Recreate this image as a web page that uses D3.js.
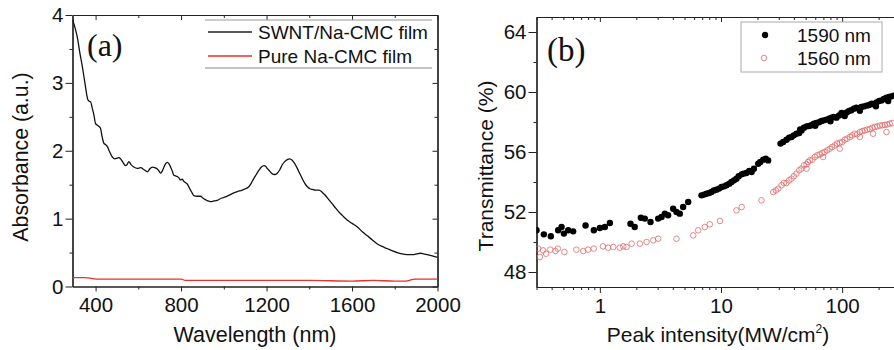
<!DOCTYPE html>
<html><head><meta charset="utf-8">
<script src="https://cdn.jsdelivr.net/npm/d3@7"></script>
<style>body{margin:0;background:#fff}svg{display:block}</style>
</head><body><svg id="c" width="894" height="350"></svg>
<script>
// ---------- Panel (a) data ----------
const absWavelength = [292,305,314,326,338,350,364,370,377,385,392,400,407,415,423,431,439,447,455,465,478,490,501,510,517,528,540,548,556,565,579,595,611,627,642,653,665,677,689,697,704,712,720,728,735,743,751,759,766,774,782,790,797,805,813,821,829,836,848,860,875,891,903,914,926,938,953,969,988,1008,1028,1047,1066,1086,1101,1117,1128,1140,1152,1164,1176,1188,1196,1203,1215,1227,1238,1250,1262,1273,1285,1297,1309,1320,1332,1344,1356,1367,1379,1391,1403,1414,1430,1445,1460,1476,1491,1507,1522,1538,1557,1577,1600,1624,1647,1670,1694,1717,1740,1764,1787,1811,1834,1857,1873,1889,1904,1920,1936,1951,1975,2000];
const absSWNT = [3.93,3.80,3.68,3.45,3.24,3.00,2.75,2.73,2.72,2.62,2.53,2.40,2.38,2.36,2.33,2.20,2.11,2.09,2.06,1.99,1.91,1.88,1.89,1.90,1.88,1.83,1.78,1.80,1.84,1.80,1.76,1.74,1.75,1.72,1.69,1.73,1.76,1.75,1.73,1.70,1.67,1.70,1.76,1.81,1.83,1.81,1.76,1.70,1.64,1.63,1.62,1.60,1.57,1.58,1.55,1.53,1.51,1.47,1.40,1.34,1.33,1.33,1.30,1.28,1.26,1.25,1.26,1.27,1.30,1.32,1.35,1.38,1.40,1.42,1.44,1.47,1.52,1.59,1.65,1.71,1.76,1.78,1.77,1.74,1.70,1.66,1.65,1.67,1.72,1.79,1.84,1.87,1.88,1.86,1.81,1.74,1.66,1.59,1.52,1.47,1.44,1.43,1.42,1.42,1.39,1.34,1.28,1.22,1.16,1.10,1.04,0.98,0.93,0.88,0.81,0.75,0.69,0.63,0.59,0.56,0.53,0.50,0.48,0.47,0.47,0.47,0.48,0.49,0.48,0.47,0.45,0.43];
const pureWavelength = [292,350,380,400,600,800,820,1000,1200,1400,1600,1700,1800,1850,1880,1900,2000];
const absPure = [0.13,0.13,0.12,0.11,0.11,0.11,0.09,0.09,0.09,0.09,0.08,0.09,0.08,0.08,0.10,0.11,0.11];
const absXTicks = [400,800,1200,1600,2000];
const absYTicks = [0,1,2,3,4];
const absLegend = ["SWNT/Na-CMC film","Pure Na-CMC film"];

// ---------- Panel (b) data ----------
const int1590 = [0.30,0.345,0.394,0.453,0.483,0.505,0.548,0.602,0.762,0.892,1.0,1.10,1.21,1.79,1.94,2.18,2.35,2.62,3.03,3.23,3.44,3.66,4.03,4.29,4.57,4.87,5.36,
  6.90,7.25,7.59,7.98,8.35,8.74,9.18,9.64,10.1,10.6,11.1,11.7,12.2,12.8,13.4,14.0,14.8,15.4,16.2,17.1,17.9,18.7,20.3,21.1,22.3,23.4,24.5,
  31.0,32.6,34.7,36.5,38.2,39.9,42.0,44.2,46.2,48.3,50.8,53.4,55.8,58.3,61.4,64.6,67.5,70.6,74.3,78.1,81.6,85.3,89.8,94.4,98.8,103,109,114,119,125,131,138,144,151,159,167,175,182,192,202,211,221,232,244,255,267,
  45,60,80,105,140,190,240];
const trans1590 = [50.78,50.51,50.38,50.78,51.0,50.56,50.78,50.71,51.1,50.78,50.93,51.0,51.27,51.22,51.0,51.62,51.56,51.33,51.56,51.67,51.89,51.78,52.22,52.0,51.89,52.33,52.67,
  53.11,53.16,53.22,53.27,53.33,53.44,53.49,53.56,53.67,53.71,53.78,53.89,54.0,54.11,54.22,54.38,54.51,54.56,54.6,54.73,54.67,54.89,55.22,55.33,55.49,55.56,55.44,
  56.56,56.67,56.82,56.96,57.0,57.11,57.22,57.27,57.44,57.62,57.71,57.73,57.78,57.89,57.93,57.98,58.07,58.11,58.16,58.22,58.29,58.33,58.29,58.44,58.6,58.56,58.64,58.73,58.78,58.89,58.96,58.89,59.0,59.04,59.09,59.13,59.22,59.18,59.31,59.4,59.44,59.53,59.62,59.67,59.71,59.76,
  57.5,57.75,58.05,58.4,58.75,59.05,59.4];
const int1560 = [0.31,0.32,0.34,0.36,0.39,0.43,0.45,0.51,0.64,0.73,0.80,0.89,1.06,1.17,1.29,1.46,1.56,1.66,1.83,2.14,2.43,2.76,3.03,4.29,5.90,6.48,7.35,8.08,9.80,13.4,14.8,21.6,
  27.0,28.4,29.7,31.6,33.0,34.7,36.5,38.2,39.9,42.0,44.2,46.2,48.3,50.8,52.3,54.1,56.9,59.5,62.3,65.4,68.4,71.6,75.2,79.0,82.6,86.8,90.7,95.5,100,105,110,116,121,127,133,140,147,154,161,169,178,186,195,205,215,225,236,247,259,
  140,180,232,95.5,69.6,50.8];
const trans1560 = [49.56,49.0,49.44,49.22,49.49,49.4,49.56,49.33,49.49,49.4,49.49,49.56,49.71,49.62,49.67,49.62,49.71,49.67,49.89,49.89,50.0,50.11,50.22,50.22,50.44,50.78,51.0,51.18,51.4,52.11,52.33,52.78,
  53.33,53.44,53.56,53.78,53.93,53.93,54.11,54.22,54.38,54.56,54.78,54.89,55.11,55.18,55.33,55.44,55.49,55.67,55.78,55.84,55.93,56.0,56.11,56.22,56.33,56.44,56.56,56.6,56.67,56.82,56.89,57.0,57.11,57.22,57.18,57.33,57.4,57.44,57.49,57.53,57.62,57.67,57.71,57.76,57.78,57.8,57.84,57.89,57.93,
  57.0,57.22,57.33,56.22,55.67,54.89];
const trXTicks = [1,10,100];
const trYTicks = [48,52,56,60,64];
const trLegend = ["1590 nm","1560 nm"];

const svg = d3.select("#c");
const SANS = "'Liberation Sans', Arial, sans-serif";
const SERIF = "'Liberation Serif', 'Times New Roman', serif";
const AX = "#222";

function styleAxis(g, fs) {
  g.selectAll("path.domain").attr("stroke", AX).attr("stroke-width", 1.2);
  g.selectAll(".tick line").attr("stroke", AX).attr("stroke-width", 1);
  g.selectAll(".tick text").attr("fill", "#111").style("font-family", SANS).style("font-size", fs + "px");
}

// ================= Panel (a) =================
{
  const L = 72.5, R = 437.5, T = 15, B = 286.5;
  const x = d3.scaleLinear().domain([292, 2000]).range([L, R]);
  const y = d3.scaleLinear().domain([0, 4]).range([B, T]);
  const minorX = [600,1000,1400,1800];
  const minorY = [0.5,1.5,2.5,3.5];

  svg.append("g").attr("transform", `translate(0,${B})`)
    .call(d3.axisBottom(x).tickValues(minorX).tickSize(3).tickSizeOuter(0).tickFormat(""))
    .call(g => styleAxis(g, 20));
  svg.append("g").attr("transform", `translate(${L},0)`)
    .call(d3.axisLeft(y).tickValues(minorY).tickSize(3).tickSizeOuter(0).tickFormat(""))
    .call(g => styleAxis(g, 20));
  svg.append("g").attr("transform", `translate(0,${T})`)
    .call(d3.axisTop(x).tickValues(minorX).tickSize(-3).tickSizeOuter(0).tickFormat(""))
    .call(g => styleAxis(g, 20));
  svg.append("g").attr("transform", `translate(${R},0)`)
    .call(d3.axisRight(y).tickValues(minorY).tickSize(-3).tickSizeOuter(0).tickFormat(""))
    .call(g => styleAxis(g, 20));
  svg.append("g").attr("transform", `translate(0,${T})`)
    .call(d3.axisTop(x).tickValues(absXTicks).tickSize(-5).tickSizeOuter(0).tickFormat(""))
    .call(g => styleAxis(g, 20));
  svg.append("g").attr("transform", `translate(${R},0)`)
    .call(d3.axisRight(y).tickValues(absYTicks).tickSize(-5).tickSizeOuter(0).tickFormat(""))
    .call(g => styleAxis(g, 20));
  svg.append("g").attr("transform", `translate(0,${B})`)
    .call(d3.axisBottom(x).tickValues(absXTicks).tickSize(5).tickPadding(6).tickSizeOuter(0).tickFormat(d3.format("d")))
    .call(g => styleAxis(g, 20.5));
  svg.append("g").attr("transform", `translate(${L},0)`)
    .call(d3.axisLeft(y).tickValues(absYTicks).tickSize(7).tickPadding(2).tickSizeOuter(0).tickFormat(d3.format("d")))
    .call(g => styleAxis(g, 20.5));

  svg.append("defs").append("clipPath").attr("id", "clipA")
    .append("rect").attr("x", L).attr("y", T).attr("width", R - L).attr("height", B - T);

  const line = d3.line().x(d => x(d[0])).y(d => y(d[1])).curve(d3.curveMonotoneX);
  const pg = svg.append("g").attr("clip-path", "url(#clipA)");
  pg.append("path").datum(pureWavelength.map((w, i) => [w, absPure[i]]))
    .attr("d", line).attr("fill", "none").attr("stroke", "#e8302c").attr("stroke-width", 1.3);
  pg.append("path").datum(absWavelength.map((w, i) => [w, absSWNT[i]]))
    .attr("d", line).attr("fill", "none").attr("stroke", "#111").attr("stroke-width", 1.3);

  svg.append("line").attr("x1", 205).attr("x2", 432).attr("y1", 20).attr("y2", 20).attr("stroke", "#999").attr("stroke-width", 1);
  svg.append("line").attr("x1", 205).attr("x2", 432).attr("y1", 68).attr("y2", 68).attr("stroke", "#888").attr("stroke-width", 1);
  const legCol = ["#222", "#e8302c"];
  absLegend.forEach((t, i) => {
    const yy = 32 + i * 24;
    svg.append("line").attr("x1", 208).attr("x2", 252).attr("y1", yy).attr("y2", yy).attr("stroke", legCol[i]).attr("stroke-width", 1.3);
    svg.append("text").attr("x", 258).attr("y", yy + 7).text(t)
      .style("font-family", SANS).style("font-size", "19px").attr("fill", "#111");
  });

  svg.append("text").attr("x", 87).attr("y", 56).text("(a)")
    .style("font-family", SERIF).style("font-size", "32px").attr("fill", "#111");

  svg.append("text").attr("x", 255).attr("y", 342).attr("text-anchor", "middle")
    .text("Wavelength (nm)").style("font-family", SANS).style("font-size", "21.5px").attr("fill", "#111");
  svg.append("text").attr("transform", `translate(28,157) rotate(-90)`).attr("text-anchor", "middle")
    .text("Absorbance (a.u.)").style("font-family", SANS).style("font-size", "21.3px").attr("fill", "#111");
}

// ================= Panel (b) =================
{
  const L = 536.5, T = 17, B = 287;
  const x = d3.scaleLog().domain([0.3, 1000]).range([L, L + 121.15 * Math.log10(1000 / 0.3)]);
  const R = x(1000);
  const y = d3.scaleLinear().domain([47, 65]).range([B, T]);
  const minorX = [];
  [0.1, 1, 10, 100].forEach(dec => { for (let k = 2; k <= 9; k++) { const v = dec * k; if (v >= 0.3 && v < 1000) minorX.push(v); } });
  const minorY = [50, 54, 58, 62];

  svg.append("g").attr("transform", `translate(0,${B})`)
    .call(d3.axisBottom(x).tickValues(minorX).tickSize(3).tickSizeOuter(0).tickFormat(""))
    .call(g => styleAxis(g, 20));
  svg.append("g").attr("transform", `translate(${L},0)`)
    .call(d3.axisLeft(y).tickValues(minorY).tickSize(3).tickSizeOuter(0).tickFormat(""))
    .call(g => styleAxis(g, 20));
  svg.append("g").attr("transform", `translate(0,${T})`)
    .call(d3.axisTop(x).tickValues(minorX).tickSize(-3).tickSizeOuter(0).tickFormat(""))
    .call(g => styleAxis(g, 20));
  svg.append("g").attr("transform", `translate(0,${T})`)
    .call(d3.axisTop(x).tickValues(trXTicks).tickSize(-5).tickSizeOuter(0).tickFormat(""))
    .call(g => styleAxis(g, 20));
  svg.append("g").attr("transform", `translate(0,${B})`)
    .call(d3.axisBottom(x).tickValues(trXTicks).tickSize(6).tickPadding(5).tickSizeOuter(0).tickFormat(d3.format("d")))
    .call(g => styleAxis(g, 20.5));
  svg.append("g").attr("transform", `translate(${L},0)`)
    .call(d3.axisLeft(y).tickValues(trYTicks).tickSize(8).tickPadding(2).tickSizeOuter(0).tickFormat(d3.format("d")))
    .call(g => styleAxis(g, 20.5));
  svg.append("line").attr("x1", R).attr("x2", R).attr("y1", T).attr("y2", B).attr("stroke", AX).attr("stroke-width", 1.2);

  svg.append("defs").append("clipPath").attr("id", "clipB")
    .append("rect").attr("x", L).attr("y", T).attr("width", R - L).attr("height", B - T);
  const pg = svg.append("g").attr("clip-path", "url(#clipB)");

  pg.selectAll("circle.r").data(int1560.map((v, i) => [v, trans1560[i]])).join("circle")
    .attr("class", "r").attr("cx", d => x(d[0])).attr("cy", d => y(d[1])).attr("r", 2.8)
    .attr("fill", "none").attr("stroke", "#e06a6a").attr("stroke-width", 0.8);
  pg.selectAll("circle.k").data(int1590.map((v, i) => [v, trans1590[i]])).join("circle")
    .attr("class", "k").attr("cx", d => x(d[0])).attr("cy", d => y(d[1])).attr("r", 3.2)
    .attr("fill", "#000");

  svg.append("rect").attr("x", 741).attr("y", 22).attr("width", 141).attr("height", 50)
    .attr("fill", "#fff").attr("stroke", "#aaa").attr("stroke-width", 1);
  svg.append("circle").attr("cx", 765).attr("cy", 35).attr("r", 3.2).attr("fill", "#000");
  svg.append("circle").attr("cx", 764).attr("cy", 58).attr("r", 2.8).attr("fill", "none").attr("stroke", "#e06a6a").attr("stroke-width", 0.8);
  trLegend.forEach((t, i) => {
    svg.append("text").attr("x", 797).attr("y", 42 + i * 22.5).text(t)
      .style("font-family", SANS).style("font-size", "19px").attr("fill", "#111");
  });

  svg.append("text").attr("x", 547).attr("y", 61).text("(b)")
    .style("font-family", SERIF).style("font-size", "33px").attr("fill", "#111");

  const xt = svg.append("text").attr("x", 718).attr("y", 342).attr("text-anchor", "middle")
    .style("font-family", SANS).style("font-size", "21px").attr("fill", "#111");
  xt.append("tspan").text("Peak intensity(MW/cm");
  xt.append("tspan").attr("dy", -9).style("font-size", "12px").text("2");
  xt.append("tspan").attr("dy", 9).text(")");
  svg.append("text").attr("transform", `translate(493,166) rotate(-90)`).attr("text-anchor", "middle")
    .text("Transmittance (%)").style("font-family", SANS).style("font-size", "21px").attr("fill", "#111");
}
</script></body></html>
